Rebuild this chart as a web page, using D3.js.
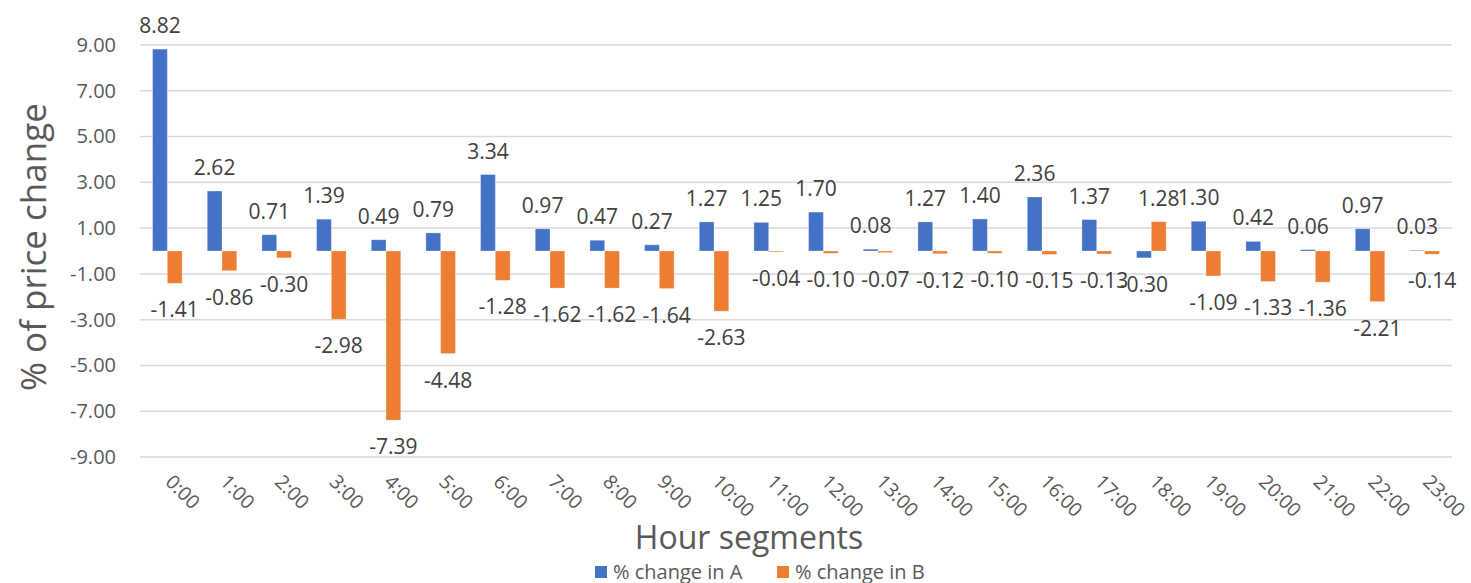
<!DOCTYPE html>
<html>
<head>
<meta charset="utf-8">
<script src="https://cdn.jsdelivr.net/npm/d3@7"></script>
<style>
  html, body { margin: 0; padding: 0; background: #fff; overflow: hidden; }
  svg { display: block; font-family: "Open Sans", "DejaVu Sans", sans-serif; }
</style>
</head>
<body>
<svg id="chart" width="1471" height="583"></svg>
<script>
// Hourly price change data
const hours = ["0:00","1:00","2:00","3:00","4:00","5:00","6:00","7:00","8:00","9:00","10:00","11:00",
               "12:00","13:00","14:00","15:00","16:00","17:00","18:00","19:00","20:00","21:00","22:00","23:00"];
const changeA = [8.82, 2.62, 0.71, 1.39, 0.49, 0.79, 3.34, 0.97, 0.47, 0.27, 1.27, 1.25,
                 1.70, 0.08, 1.27, 1.40, 2.36, 1.37, -0.30, 1.30, 0.42, 0.06, 0.97, 0.03];
const changeB = [-1.41, -0.86, -0.30, -2.98, -7.39, -4.48, -1.28, -1.62, -1.62, -1.64, -2.63, -0.04,
                 -0.10, -0.07, -0.12, -0.10, -0.15, -0.13, 1.28, -1.09, -1.33, -1.36, -2.21, -0.14];
const yTicks = [9, 7, 5, 3, 1, -1, -3, -5, -7, -9];
const seriesNames = ["% change in A", "% change in B"];
const seriesColors = ["#4472C4", "#ED7D31"];

const svg = d3.select("#chart");
const plot = { left: 140, right: 1452, top: 45, bottom: 457 };

const x = d3.scaleBand().domain(hours).range([plot.left, plot.right]).paddingInner(0).paddingOuter(0);
const y = d3.scaleLinear().domain([-9, 9]).range([plot.bottom, plot.top]);
const barW = x.bandwidth() * 0.27;
// Two decimals with a plain hyphen for negatives
const fmt = d => d3.format(".2f")(d).replace("\u2212", "-");

// Gridlines
svg.append("g")
  .selectAll("line")
  .data(yTicks)
  .join("line")
  .attr("x1", plot.left).attr("x2", plot.right)
  .attr("y1", d => y(d)).attr("y2", d => y(d))
  .attr("stroke", "#d9d9d9").attr("stroke-width", 1.5);

// Y axis tick labels
const yAxis = d3.axisLeft(y).tickValues(yTicks).tickFormat(fmt).tickSize(0).tickPadding(0);
const gy = svg.append("g").attr("transform", `translate(${plot.left - 24},0)`).call(yAxis);
gy.select(".domain").remove();
gy.selectAll("text")
  .attr("fill", "#595959")
  .style("font-size", "20px")
  .style("font-family", "'Open Sans', sans-serif");

// X axis category labels, rotated
const xAxis = d3.axisBottom(x).tickSize(0).tickPadding(0);
const gx = svg.append("g").attr("transform", `translate(0,${plot.bottom})`).call(xAxis);
gx.select(".domain").remove();
gx.selectAll("text")
  .attr("fill", "#595959")
  .style("font-size", "19.5px")
  .style("font-family", "'Open Sans', sans-serif")
  .attr("text-anchor", "start")
  .attr("dy", "0")
  .attr("y", 0)
  .attr("transform", "translate(-3,26) rotate(45)");

// Bars with value labels
const series = [changeA, changeB];
series.forEach((vals, si) => {
  const g = svg.append("g");
  const bx = (i) => x(hours[i]) + x.bandwidth() / 2 - barW + si * barW;
  g.selectAll("rect")
    .data(vals)
    .join("rect")
    .attr("x", (d, i) => bx(i))
    .attr("width", barW)
    .attr("y", d => y(Math.max(0, d)))
    .attr("height", d => Math.abs(y(d) - y(0)))
    .attr("fill", seriesColors[si])
    .attr("stroke", "#ffffff").attr("stroke-opacity", 0.35).attr("stroke-width", 0.8);

  g.selectAll("text")
    .data(vals)
    .join("text")
    .attr("x", (d, i) => bx(i) + barW / 2)
    .attr("y", d => d >= 0 ? y(d) - 16 : y(d) + 34)
    .attr("text-anchor", "middle")
    .attr("fill", "#404040")
    .style("font-size", "21px")
    .text(d => fmt(d));
});

// Axis titles
svg.append("text")
  .attr("transform", `translate(46,247) rotate(-90)`)
  .attr("text-anchor", "middle")
  .attr("fill", "#595959")
  .style("font-size", "35px")
  .text("% of price change");

svg.append("text")
  .attr("x", 749).attr("y", 549)
  .attr("text-anchor", "middle")
  .attr("fill", "#595959")
  .style("font-size", "32px")
  .text("Hour segments");

// Legend
const legend = svg.append("g");
const legendX = [595, 777];
seriesNames.forEach((name, i) => {
  legend.append("rect")
    .attr("x", legendX[i]).attr("y", 566)
    .attr("width", 12).attr("height", 12)
    .attr("fill", seriesColors[i]);
  legend.append("text")
    .attr("x", legendX[i] + 18).attr("y", 579)
    .attr("fill", "#595959")
    .style("font-size", "20px")
    .text(name);
});
</script>
</body>
</html>
